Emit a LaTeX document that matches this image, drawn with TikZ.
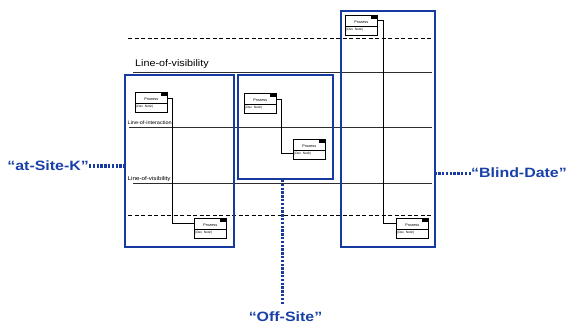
\documentclass[tikz,border=0pt]{standalone}
\usepackage{fontspec}
\setmainfont{Liberation Sans}
\newfontfamily\bigf[FakeStretch=1.18]{Liberation Sans}
\newfontfamily\smf[FakeStretch=1.12]{Liberation Sans}
\definecolor{boxblue}{RGB}{22,58,160}
\definecolor{txtblue}{RGB}{24,64,168}
\definecolor{linegray}{RGB}{45,45,45}
\newcommand\myproc[3]{%
  \node[proc] (#1) at (#2,#3) {};
  \draw[line width=0.45pt] ([yshift=-11.5pt]#1.north west) -- ([yshift=-11.5pt]#1.north east);
  \fill ([xshift=-7pt]#1.north east) rectangle ([yshift=-4pt,xshift=-0.3pt]#1.north east);
  \node[font=\fontsize{3.8}{4}\selectfont, inner sep=0pt] (#1t) at ([yshift=-6.8pt]#1.north) {Prozess};
  \node[font=\fontsize{3.2}{3.5}\selectfont, inner sep=0pt, anchor=west] (#1n) at ([xshift=1pt,yshift=-15pt]#1.north west) {(Dev. Notiz)};
}
\begin{document}
\begin{tikzpicture}[x=1pt,y=-1pt,
  bluebox/.style={draw=boxblue, line width=2pt, anchor=north west, inner sep=0pt},
  hline/.style={draw=linegray, line width=0.9pt},
  dline/.style={draw=black, line width=0.9pt, dash pattern=on 4pt off 2.5pt},
  dotline/.style={draw=boxblue, line width=3pt, dash pattern=on 2.4pt off 1.4pt},
  conn/.style={draw=black, line width=0.7pt},
  biglabel/.style={font=\bigf\bfseries\fontsize{13.5}{14}\selectfont, text=txtblue, inner sep=0pt},
  lvlabel/.style={anchor=base west, inner sep=0pt, text=black},
  proc/.style={draw=black, line width=0.7pt, minimum width=32pt, minimum height=20pt,
    inner sep=0pt, anchor=north west, fill=white}
]
\useasboundingbox (0,0) rectangle (572,323);

% horizontal lines
\coordinate (d1a) at (128,38);  \coordinate (d1b) at (432,38);
\coordinate (v1a) at (133,72);  \coordinate (v1b) at (432,72);
\coordinate (i1a) at (129,127); \coordinate (i1b) at (432,127);
\coordinate (v2a) at (133,183); \coordinate (v2b) at (432,183);
\coordinate (d2a) at (128,215); \coordinate (d2b) at (432,215);
\draw[dline] (d1a) -- (d1b);
\draw[hline] (v1a) -- (v1b);
\draw[hline] (i1a) -- (i1b);
\draw[hline] (v2a) -- (v2b);
\draw[dline] (d2a) -- (d2b);

\node[lvlabel, font=\smf\fontsize{9.6}{10}\selectfont] (lv1) at (135,66.5) {Line-of-visibility};
\node[lvlabel, font=\smf\fontsize{4.9}{5}\selectfont] (li1) at (127.5,124.5) {Line-of-interaction};
\node[lvlabel, font=\smf\fontsize{5.6}{6}\selectfont] (lv2) at (127.5,180) {Line-of-visibility};

% blue boxes
\node[bluebox, minimum width=109pt, minimum height=172pt] (site) at (124,74) {};
\node[bluebox, minimum width=95pt, minimum height=104pt] (off) at (237,74) {};
\node[bluebox, minimum width=94pt, minimum height=236pt] (blind) at (340,10) {};

% process boxes
\myproc{p1}{135}{92}
\myproc{p2}{244}{93}
\myproc{p3}{293}{139}
\myproc{p4}{194}{218}
\myproc{p5}{345}{15}
\myproc{p6}{396}{218}

\draw[conn] ([yshift=-6pt]p1.north east) -- ++(5,0) |- ([yshift=-5pt]p4.north west);
\draw[conn] ([yshift=-6pt]p2.north east) -- ++(5,0) |- ([yshift=-14pt]p3.north west);
\draw[conn] ([yshift=-5pt]p5.north east) -- ++(6,0) |- ([yshift=-5pt]p6.north west);

% labels
\node[biglabel, anchor=east] (lsite) at (89,166) {“at-Site-K”};
\node[biglabel, anchor=west] (lblind) at (471,173) {“Blind-Date”};
\node[biglabel, anchor=base] (loff) at (285.5,321.5) {“Off-Site”};
\coordinate (offtop) at (282,305);

\draw[dotline] (lsite.east) -- (lsite.east -| site.west);
\draw[dotline] (lblind.west) -- (lblind.west -| blind.east);
\draw[dotline] (off.south -| offtop) -- (offtop);
\end{tikzpicture}
\end{document}
